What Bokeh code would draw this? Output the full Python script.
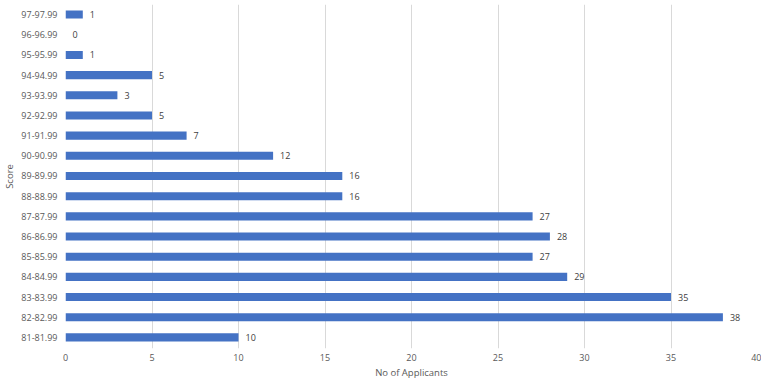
from bokeh.plotting import figure
from bokeh.models import ColumnDataSource, Range1d, FixedTicker, LabelSet
from bokeh.core.properties import value
from bokeh.embed import file_html
from bokeh.resources import INLINE

score_bins = ["81-81.99", "82-82.99", "83-83.99", "84-84.99", "85-85.99", "86-86.99",
              "87-87.99", "88-88.99", "89-89.99", "90-90.99", "91-91.99", "92-92.99",
              "93-93.99", "94-94.99", "95-95.99", "96-96.99", "97-97.99"]
applicants = [10, 38, 35, 29, 27, 28, 27, 16, 16, 12, 7, 5, 3, 5, 1, 0, 1]
x_ticks = [0, 5, 10, 15, 20, 25, 30, 35, 40]

pos = list(range(len(score_bins)))
src = ColumnDataSource(dict(y=pos, v=applicants, lab=[str(a) for a in applicants]))

FONT = "Open Sans"
GRAY = "#595959"

p = figure(frame_width=692, frame_height=344, output_backend="svg", toolbar_location=None,
           x_range=Range1d(0, 40), y_range=Range1d(-0.55, 16.5),
           min_border_left=0, min_border_right=4, min_border_top=4, min_border_bottom=0)
p.outline_line_color = None
p.background_fill_color = "white"
p.border_fill_color = "white"

p.hbar(y="y", right="v", left=0, height=0.4, source=src, fill_color="#4472C4", line_color=None)

labels = LabelSet(x="v", y="y", text="lab", source=src, x_offset=7, y_offset=0,
                  text_baseline="middle", text_align="left", text_font_size="9px",
                  text_font=value(FONT), text_color="#404040")
p.add_layout(labels)

p.xaxis.ticker = FixedTicker(ticks=x_ticks)
p.yaxis.ticker = FixedTicker(ticks=pos)
p.yaxis.major_label_overrides = {i: s for i, s in enumerate(score_bins)}

p.xaxis.axis_label = "No of Applicants"
p.yaxis.axis_label = "Score"
for ax in (p.xaxis[0], p.yaxis[0]):
    ax.axis_line_color = None
    ax.major_tick_line_color = None
    ax.minor_tick_line_color = None
    ax.major_tick_out = 0
    ax.major_tick_in = 0
    ax.major_label_text_font = FONT
    ax.major_label_text_font_size = "9px"
    ax.major_label_text_color = GRAY
    ax.axis_label_text_font = FONT
    ax.axis_label_text_font_size = "9.5px"
    ax.axis_label_text_font_style = "normal"
    ax.axis_label_text_color = GRAY
p.xaxis.major_label_standoff = 5
p.xaxis.axis_label_standoff = 2
p.yaxis.major_label_standoff = 8
p.yaxis.axis_label_standoff = 2

p.xgrid.grid_line_color = "#d9d9d9"
p.xgrid.grid_line_width = 1
p.ygrid.grid_line_color = None

open("out.html", "w").write(file_html(p, INLINE))
